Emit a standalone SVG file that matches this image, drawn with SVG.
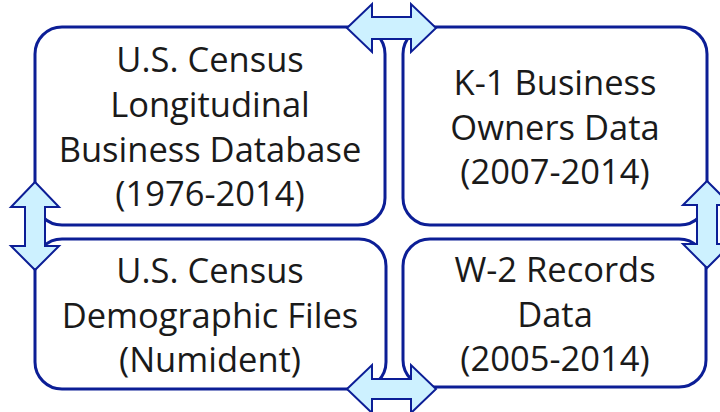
<svg xmlns="http://www.w3.org/2000/svg" width="720" height="412" viewBox="0 0 720 412">
<style>
.box{fill:#fff;stroke:#0c1e96;stroke-width:3}
.arr{fill:#cdf1ff;stroke:#0c1e96;stroke-width:2;stroke-linejoin:miter}
text{font-family:"Open Sans","Noto Sans","DejaVu Sans",sans-serif;font-size:34.5px;fill:#1a1a1a;text-anchor:middle}
</style>
<rect width="720" height="412" fill="#fff"/>
<g id="node-lbd"><rect class="box" x="35" y="27" width="350" height="198" rx="27"/>
<text x="210" y="72">U.S. Census</text><text x="210" y="117">Longitudinal</text><text x="210" y="162">Business Database</text><text x="210" y="206">(1976-2014)</text></g>
<g id="node-k1"><rect class="box" x="403" y="27" width="304" height="198" rx="27"/>
<text x="555" y="95">K-1 Business</text><text x="555" y="140">Owners Data</text><text x="555" y="184">(2007-2014)</text></g>
<g id="node-demo"><rect class="box" x="35" y="239" width="351" height="150" rx="27"/>
<text x="210" y="283">U.S. Census</text><text x="210" y="328">Demographic Files</text><text x="210" y="372">(Numident)</text></g>
<g id="node-w2"><rect class="box" x="403" y="239" width="303" height="148" rx="27"/>
<text x="555" y="282">W-2 Records</text><text x="555" y="327">Data</text><text x="555" y="371">(2005-2014)</text></g>
<g id="connectors">
<polygon class="arr" points="347,28 372,4 372,17 411,17 411,4 436,28 411,52 411,39 372,39 372,52"/>
<polygon class="arr" points="347,389 372,365 372,379 411,379 411,365 436,389 411,413 411,399 372,399 372,413"/>
<polygon class="arr" points="35,182 59,207 45,207 45,246 59,246 35,270 11,246 25,246 25,207 11,207"/>
<polygon class="arr" points="707,181 731,205 717,205 717,244 731,244 707,268 683,244 697,244 697,205 683,205"/>
</g>
</svg>
